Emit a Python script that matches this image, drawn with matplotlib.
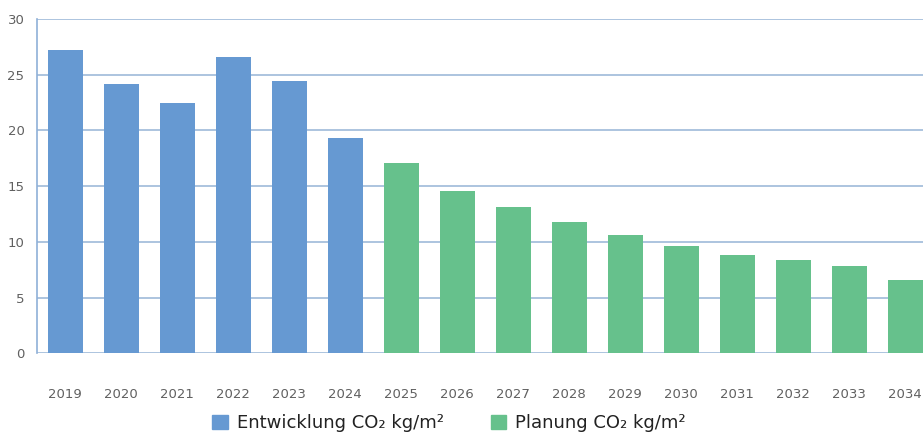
import matplotlib
matplotlib.use("Agg")
import matplotlib.pyplot as plt
from matplotlib.patches import Patch

plt.rcParams['font.family'] = ['DejaVu Sans']

years = ["2019", "2020", "2021", "2022", "2023", "2024", "2025", "2026",
         "2027", "2028", "2029", "2030", "2031", "2032", "2033", "2034"]
entwicklung = [27.2, 24.2, 22.5, 26.6, 24.4, 19.3]
planung = [17.1, 14.6, 13.1, 11.8, 10.6, 9.6, 8.8, 8.4, 7.8, 6.6]
legend_labels = ["Entwicklung CO₂ kg/m²", "Planung CO₂ kg/m²"]
y_ticks = [0, 5, 10, 15, 20, 25, 30]

blue = "#6699d2"
green = "#66c18c"
grid_c = "#a6bfdc"

W, H = 923, 433
fig = plt.figure(figsize=(W / 100, H / 100), dpi=100)
ax = fig.add_axes([37 / W, 79.7 / H, 896 / W, 334.3 / H])

n_e = len(entwicklung)
x_e = list(range(n_e))
x_p = list(range(n_e, n_e + len(planung)))
ax.bar(x_e, entwicklung, width=0.625, color=blue, zorder=3)
ax.bar(x_p, planung, width=0.625, color=green, zorder=3)

ax.set_xlim(-0.5, len(years) - 0.5)
ax.set_ylim(0, 30)
ax.set_yticks(y_ticks)
ax.set_xticks(range(len(years)))
ax.set_xticklabels(years)
ax.yaxis.grid(True, color=grid_c, linewidth=1.3, zorder=0)
for s in ["top", "right", "bottom"]:
    ax.spines[s].set_visible(False)
ax.spines["left"].set_color("#8fb0d8")
ax.spines["left"].set_linewidth(1.2)
ax.tick_params(axis="both", length=0, labelsize=9.5, labelcolor="#606060")
ax.tick_params(axis="y", pad=9)
ax.tick_params(axis="x", pad=25)

handles = [Patch(color=blue), Patch(color=green)]
fig.legend(handles, legend_labels, loc="center", bbox_to_anchor=(449 / W, 1 - 423 / H),
           ncol=2, frameon=False, fontsize=13, handlelength=0.85, handleheight=0.85,
           handletextpad=0.5, columnspacing=2.6, labelcolor="#222222")

fig.savefig("out.png", dpi=100)
